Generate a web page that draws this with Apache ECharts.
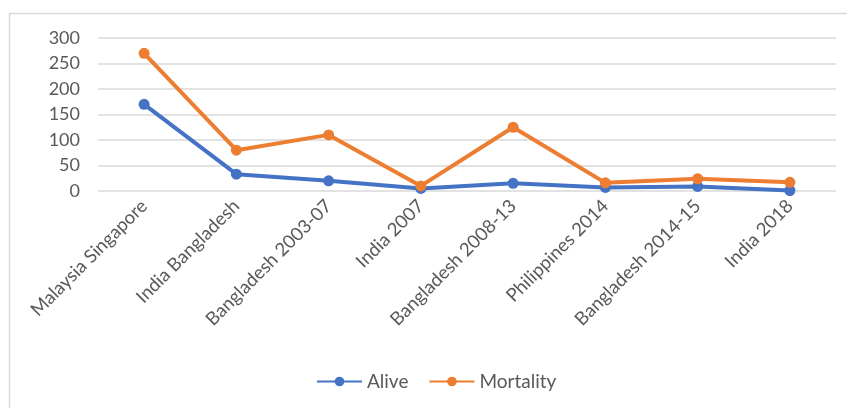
<!DOCTYPE html>
<html>
<head>
<meta charset="utf-8">
<script src="https://cdn.jsdelivr.net/npm/echarts@6/dist/echarts.min.js"></script>
<style>html,body{margin:0;padding:0;background:#fff}#c{width:847px;height:408px}</style>
</head>
<body>
<div id="c"></div>
<script>
const categories = ["Malaysia Singapore","India Bangladesh","Bangladesh 2003-07","India 2007","Bangladesh 2008-13","Philippines 2014","Bangladesh 2014-15","India 2018"];
const alive = [170, 33, 20, 5, 15, 7, 9, 1];
const mortality = [270, 80, 110, 10, 125, 16, 24, 17];
const yTicks = [0, 50, 100, 150, 200, 250, 300];

const chart = echarts.init(document.getElementById('c'), null, {renderer:'canvas'});
const font = 'Lato, "Open Sans", sans-serif';
chart.setOption({
  animation: false,
  graphic: [{type:'rect', shape:{x:9.5,y:13.5,width:860,height:420}, style:{fill:'none', stroke:'#d9d9d9', lineWidth:1.5}, silent:true}],
  grid: {left: 98, right: 11, top: 38, bottom: 217},
  legend: {
    bottom: 12, left: 311,
    itemWidth: 45, itemHeight: 12, itemGap: 20,
    textStyle: {fontFamily: font, fontSize: 19, color: '#595959'},
    data: ['Alive','Mortality']
  },
  xAxis: {
    type: 'category', data: categories, boundaryGap: true,
    axisLine: {show: false}, axisTick: {show: false},
    axisLabel: {rotate: 45, interval: 0, margin: 12, fontFamily: font, fontSize: 18.5, color: '#595959'}
  },
  yAxis: {
    type: 'value', min: yTicks[0], max: yTicks[yTicks.length-1], interval: 50,
    axisLine: {show: false}, axisTick: {show: false},
    axisLabel: {margin: 18, fontFamily: font, fontSize: 18, color: '#595959'},
    splitLine: {lineStyle: {color: '#d9d9d9', width: 1.5}}
  },
  series: [
    {name:'Alive', type:'line', data: alive, symbol:'circle', symbolSize: 11,
     lineStyle:{width:4, color:'#4472C4'}, itemStyle:{color:'#4472C4'}},
    {name:'Mortality', type:'line', data: mortality, symbol:'circle', symbolSize: 11,
     lineStyle:{width:4, color:'#ED7D31'}, itemStyle:{color:'#ED7D31'}}
  ]
});
</script>
</body>
</html>
